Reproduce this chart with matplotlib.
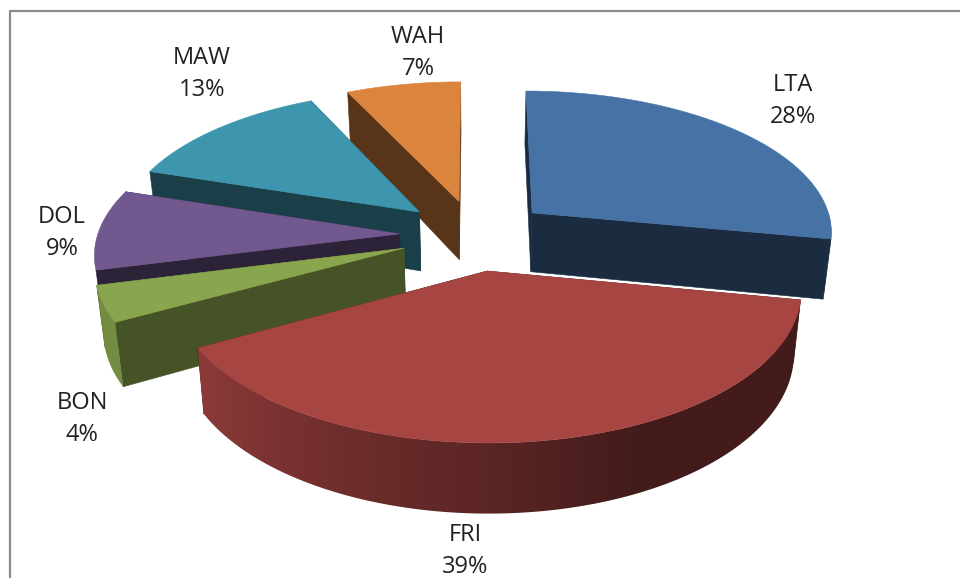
#exploded 3d pie, drawn by hand since matplotlib pie has no depth
import matplotlib
matplotlib.use('Agg')
import matplotlib.pyplot as plt
from matplotlib.patches import Polygon
import numpy as np

names = ['LTA', 'FRI', 'BON', 'DOL', 'MAW', 'WAH']
shares = [28, 39, 4, 9, 13, 7]
colors = ['#4672A6', '#A74543', '#89A54E', '#71588F', '#3D96AE', '#DB843D']
cut_shades = [0.39, 0.4, 0.5, 0.4, 0.42, 0.4]
label_pos = [(793, 101), (465, 551), (82, 419), (62, 233), (202, 74), (418, 53)]
draw_order = ['WAH', 'MAW', 'DOL', 'BON', 'FRI', 'LTA']

#projection settings
cx, cy = 475, 235
rad_x, rad_y = 302, 141.6
persp = 0.121
depth = 60
taper = 0.022
explode = 0.25


def project(x, y, z=0.0):
    s = 1 / (1 + persp * y)
    return cx + x * rad_x * s * (1 - taper * z), cy - y * rad_y * s + z * depth * s


def shade(col, f):
    rgb = np.array(matplotlib.colors.to_rgb(col))
    return tuple(rgb * f)


fig = plt.figure(figsize=(9.6, 5.78), dpi=100)
ax = fig.add_axes([0, 0, 1, 1])

#chart frame, right and bottom run off the picture
ax.plot([9.5, 9.5, 960], [578, 11, 11], color='#8c8c8c', lw=1.6, zorder=0)

angles = np.cumsum([0] + shares) * 3.6
starts = dict(zip(names, angles[:-1]))
ends = dict(zip(names, angles[1:]))
col_by_name = dict(zip(names, colors))
cut_by_name = dict(zip(names, cut_shades))

zo = 1
for name in draw_order:
    t0, t1 = starts[name], ends[name]
    col = col_by_name[name]
    mid = np.radians((t0 + t1) / 2)
    ax0, ay0 = explode * np.sin(mid), explode * np.cos(mid)
    ts = np.radians(np.linspace(t0, t1, max(int(t1 - t0), 8) * 2 + 1))
    rim_x = ax0 + np.sin(ts)
    rim_y = ay0 + np.cos(ts)

    #cut faces
    cut = shade(col, cut_by_name[name])
    for i in [0, -1]:
        pts = [project(ax0, ay0), project(rim_x[i], rim_y[i]),
               project(rim_x[i], rim_y[i], 1), project(ax0, ay0, 1)]
        ax.add_patch(Polygon(pts, fc=cut, ec=cut, lw=0.4, zorder=zo))

    #outer wall only on the front half, gradient lit from the left
    deg = np.degrees(ts)
    front = (deg > 90) & (deg < 256)
    if front.sum() > 1:
        fx = rim_x[front]
        fy = rim_y[front]
        upper = [project(x, y) for x, y in zip(fx, fy)]
        lower = [project(x, y, 1) for x, y in zip(fx, fy)]
        wall = Polygon(upper + lower[::-1], fc='none', ec='none', transform=ax.transData)
        ax.add_patch(wall)
        px = np.array([p[0] for p in upper])
        order = np.argsort(px)
        f = np.interp(deg[front], [100, 155, 180, 241, 260], [0.4, 0.4, 0.54, 0.85, 0.85])
        grid = np.arange(px.min() - 12, px.max() + 12)
        fac = np.interp(grid, px[order], f[order])
        img = np.array([[shade(col, v) for v in fac]])
        ys = [p[1] for p in upper + lower]
        im = ax.imshow(img, extent=(grid[0], grid[-1], max(ys) + 2, min(ys) - 2),
                       aspect='auto', interpolation='bilinear', zorder=zo + 0.25)
        im.set_clip_path(wall)

    #top face
    top = [project(ax0, ay0)] + [project(x, y) for x, y in zip(rim_x, rim_y)]
    ax.add_patch(Polygon(top, fc=col, ec=col, lw=0.4, zorder=zo + 0.5))
    zo += 1

for name, share, (x, y) in zip(names, shares, label_pos):
    ax.text(x, y, f'{name}\n{share}%', ha='center', va='center', fontsize=17,
            family='Open Sans', color='#222222', linespacing=1.42, zorder=20)

ax.set_xlim(0, 960)
ax.set_ylim(578, 0)
ax.axis('off')

fig.savefig('out.png', dpi=100)
